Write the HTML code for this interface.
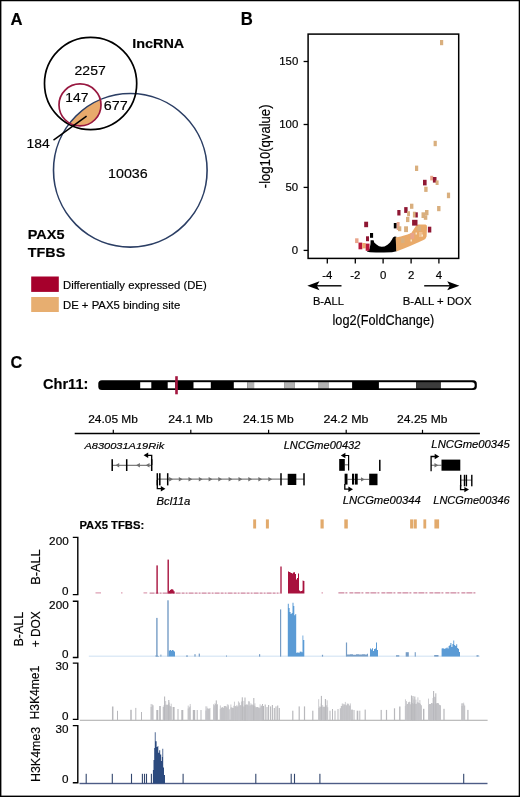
<!DOCTYPE html>
<html><head><meta charset="utf-8"><style>
html,body{margin:0;padding:0;background:#fff;}
#wrap{position:relative;width:520px;height:797px;overflow:hidden;background:#fff;}
svg{position:absolute;left:0;top:0;will-change:transform;}
text{font-family:"Liberation Sans",sans-serif;stroke:currentColor;stroke-width:0.18px;}
</style></head><body><div id="wrap">
<svg width="520" height="797" viewBox="0 0 520 797">
<rect x="0.5" y="0.5" width="519" height="796" fill="none" stroke="#000" stroke-width="1"/>
<rect x="0" y="795.6" width="520" height="1.4" fill="#000"/>
<rect x="1" y="0" width="1" height="797" fill="#000" opacity="0.4"/>
<rect x="0" y="1" width="520" height="1" fill="#000" opacity="0.25"/>
<rect x="518" y="0" width="1" height="797" fill="#000" opacity="0.3"/>
<text x="10.50" y="24.60" font-size="17" font-weight="bold" textLength="12.04" lengthAdjust="spacingAndGlyphs" fill="#000" >A</text>
<text x="132.19" y="47.60" font-size="13.5" font-weight="bold" textLength="52.06" lengthAdjust="spacingAndGlyphs" fill="#000" >lncRNA</text>
<defs><clipPath id="cpRed"><circle cx="80" cy="104.9" r="21"/></clipPath></defs>
<circle cx="130.3" cy="170.3" r="76.8" fill="#e8aa6c" clip-path="url(#cpRed)"/>
<circle cx="130.3" cy="170.3" r="76.8" fill="none" stroke="#2b3e64" stroke-width="1.6"/>
<circle cx="90.6" cy="83.5" r="46.1" fill="none" stroke="#000" stroke-width="1.7"/>
<circle cx="80" cy="104.9" r="21" fill="none" stroke="#981840" stroke-width="1.7"/>
<line x1="86.6" y1="116.1" x2="53.5" y2="140.2" stroke="#000" stroke-width="1.5"/>
<text x="74.60" y="74.50" font-size="13.6" textLength="31.12" lengthAdjust="spacingAndGlyphs" fill="#000" >2257</text>
<text x="65.29" y="102.00" font-size="13.6" textLength="23.07" lengthAdjust="spacingAndGlyphs" fill="#000" >147</text>
<text x="103.88" y="110.40" font-size="13.6" textLength="23.91" lengthAdjust="spacingAndGlyphs" fill="#000" >677</text>
<text x="26.49" y="148.40" font-size="13.6" textLength="23.21" lengthAdjust="spacingAndGlyphs" fill="#000" >184</text>
<text x="108.06" y="178.40" font-size="13.6" textLength="39.66" lengthAdjust="spacingAndGlyphs" fill="#000" >10036</text>
<text x="27.79" y="238.50" font-size="13.2" font-weight="bold" textLength="36.72" lengthAdjust="spacingAndGlyphs" fill="#000" >PAX5</text>
<text x="27.86" y="257.00" font-size="13.6" font-weight="bold" textLength="37.33" lengthAdjust="spacingAndGlyphs" fill="#000" >TFBS</text>
<rect x="31.2" y="276.5" width="27.6" height="15.4" fill="#a6002c"/>
<rect x="31.2" y="297" width="27.6" height="15" fill="#e7ae70"/>
<text x="63.00" y="289.00" font-size="11.5" textLength="143.67" lengthAdjust="spacingAndGlyphs" fill="#000" >Differentially expressed (DE)</text>
<text x="62.99" y="308.80" font-size="11.5" textLength="117.26" lengthAdjust="spacingAndGlyphs" fill="#000" >DE + PAX5 binding site</text>
<text x="240.83" y="25.10" font-size="17.5" font-weight="bold" textLength="12.08" lengthAdjust="spacingAndGlyphs" fill="#000" >B</text>
<rect x="308.1" y="34.1" width="150.6" height="224.3" fill="none" stroke="#000" stroke-width="1.5"/>
<line x1="303.6" y1="61.5" x2="308.1" y2="61.5" stroke="#000" stroke-width="1.3"/>
<text x="279.22" y="65.20" font-size="11.4" fill="#000" >150</text>
<line x1="303.6" y1="124.5" x2="308.1" y2="124.5" stroke="#000" stroke-width="1.3"/>
<text x="279.22" y="128.20" font-size="11.4" fill="#000" >100</text>
<line x1="303.6" y1="187.4" x2="308.1" y2="187.4" stroke="#000" stroke-width="1.3"/>
<text x="285.49" y="191.10" font-size="11.4" fill="#000" >50</text>
<line x1="303.6" y1="250.4" x2="308.1" y2="250.4" stroke="#000" stroke-width="1.3"/>
<text x="291.87" y="254.10" font-size="11.4" fill="#000" >0</text>
<line x1="327.3" y1="258.4" x2="327.3" y2="263.6" stroke="#000" stroke-width="1.3"/>
<text x="322.17" y="278.60" font-size="11.4" fill="#000" >-4</text>
<line x1="355.3" y1="258.4" x2="355.3" y2="263.6" stroke="#000" stroke-width="1.3"/>
<text x="350.28" y="278.60" font-size="11.4" fill="#000" >-2</text>
<line x1="383.1" y1="258.4" x2="383.1" y2="263.6" stroke="#000" stroke-width="1.3"/>
<text x="379.91" y="278.60" font-size="11.4" fill="#000" >0</text>
<line x1="411.1" y1="258.4" x2="411.1" y2="263.6" stroke="#000" stroke-width="1.3"/>
<text x="407.91" y="278.60" font-size="11.4" fill="#000" >2</text>
<line x1="438.9" y1="258.4" x2="438.9" y2="263.6" stroke="#000" stroke-width="1.3"/>
<text x="435.76" y="278.60" font-size="11.4" fill="#000" >4</text>
<line x1="313" y1="285.8" x2="341.5" y2="285.8" stroke="#000" stroke-width="1.4"/>
<path d="M307.3 285.8 L319.5 281.3 L316.8 285.8 L319.5 290.3 Z" fill="#000"/>
<line x1="424.2" y1="285.8" x2="453" y2="285.8" stroke="#000" stroke-width="1.4"/>
<path d="M459.4 285.8 L447.2 281.3 L449.9 285.8 L447.2 290.3 Z" fill="#000"/>
<text x="312.91" y="304.60" font-size="11" textLength="30.93" lengthAdjust="spacingAndGlyphs" fill="#000" >B-ALL</text>
<text x="402.79" y="304.60" font-size="11" textLength="68.74" lengthAdjust="spacingAndGlyphs" fill="#000" >B-ALL + DOX</text>
<text x="332.51" y="325.10" font-size="14.4" textLength="101.71" lengthAdjust="spacingAndGlyphs" fill="#000" >log2(FoldChange)</text>
<text x="270.20" y="188.22" font-size="14.4" textLength="83.74" lengthAdjust="spacingAndGlyphs" fill="#000" transform="rotate(-90 270.20 188.22)" >-log10(qvalue)</text><text x="10.45" y="367.60" font-size="17" font-weight="bold" textLength="11.78" lengthAdjust="spacingAndGlyphs" fill="#000" >C</text>
<text x="43.02" y="388.50" font-size="14.3" font-weight="bold" textLength="45.33" lengthAdjust="spacingAndGlyphs" fill="#000" >Chr11:</text>
<rect x="98.3" y="380.2" width="378.5" height="9.9" rx="3.6" ry="3.6" fill="#000"/>
<rect x="140.2" y="382.2" width="11.10" height="6.10" fill="#fff"/>
<rect x="167.7" y="382.2" width="7.50" height="6.10" fill="#fff"/>
<rect x="193.5" y="382.2" width="17.30" height="6.10" fill="#fff"/>
<rect x="233.8" y="382.2" width="13.40" height="6.10" fill="#fff"/>
<rect x="247.2" y="382.2" width="6.90" height="6.10" fill="#b2b2b2"/>
<rect x="254.1" y="382.2" width="30.50" height="6.10" fill="#fff"/>
<rect x="284.6" y="382.2" width="10.00" height="6.10" fill="#b2b2b2"/>
<rect x="294.6" y="382.2" width="23.40" height="6.10" fill="#fff"/>
<rect x="318" y="382.2" width="11.00" height="6.10" fill="#b2b2b2"/>
<rect x="329" y="382.2" width="23.10" height="6.10" fill="#fff"/>
<rect x="378.9" y="382.2" width="37.20" height="6.10" fill="#fff"/>
<rect x="416.1" y="382.2" width="24.80" height="6.10" fill="#3c3c3c"/>
<path d="M440.9 382.2 L471.8 382.2 A2.9 2.9 0 0 1 474.7 385.25 A2.9 2.9 0 0 1 471.8 388.3 L440.9 388.3 Z" fill="#fff"/>
<line x1="176.5" y1="376.2" x2="176.5" y2="394.3" stroke="#a3163f" stroke-width="2.6"/>
<line x1="74.7" y1="433.6" x2="479.9" y2="433.6" stroke="#000" stroke-width="1.5"/>
<line x1="113.3" y1="429.8" x2="113.3" y2="433.6" stroke="#000" stroke-width="1.2"/>
<text x="88.20" y="423.20" font-size="10.8" textLength="49.78" lengthAdjust="spacingAndGlyphs" fill="#000" >24.05 Mb</text>
<line x1="190.8" y1="429.8" x2="190.8" y2="433.6" stroke="#000" stroke-width="1.2"/>
<text x="168.39" y="423.20" font-size="10.8" textLength="44.34" lengthAdjust="spacingAndGlyphs" fill="#000" >24.1 Mb</text>
<line x1="268.6" y1="429.8" x2="268.6" y2="433.6" stroke="#000" stroke-width="1.2"/>
<text x="243.04" y="423.20" font-size="10.8" textLength="50.70" lengthAdjust="spacingAndGlyphs" fill="#000" >24.15 Mb</text>
<line x1="346.2" y1="429.8" x2="346.2" y2="433.6" stroke="#000" stroke-width="1.2"/>
<text x="323.48" y="423.20" font-size="10.8" textLength="44.96" lengthAdjust="spacingAndGlyphs" fill="#000" >24.2 Mb</text>
<line x1="422.5" y1="429.8" x2="422.5" y2="433.6" stroke="#000" stroke-width="1.2"/>
<text x="397.10" y="423.20" font-size="10.8" textLength="50.40" lengthAdjust="spacingAndGlyphs" fill="#000" >24.25 Mb</text>
<text x="84.45" y="448.60" font-size="9.7" font-style="italic" textLength="79.78" lengthAdjust="spacingAndGlyphs" fill="#000" >A830031A19Rik</text>
<text x="283.67" y="448.60" font-size="11" font-style="italic" textLength="76.73" lengthAdjust="spacingAndGlyphs" fill="#000" >LNCGme00432</text>
<text x="431.36" y="448.40" font-size="11" font-style="italic" textLength="78.31" lengthAdjust="spacingAndGlyphs" fill="#000" >LNCGme00345</text>
<text x="156.56" y="504.60" font-size="10.1" font-style="italic" textLength="33.72" lengthAdjust="spacingAndGlyphs" fill="#000" >Bcl11a</text>
<text x="342.66" y="504.30" font-size="11" font-style="italic" textLength="78.06" lengthAdjust="spacingAndGlyphs" fill="#000" >LNCGme00344</text>
<text x="433.27" y="504.30" font-size="11" font-style="italic" textLength="76.42" lengthAdjust="spacingAndGlyphs" fill="#000" >LNCGme00346</text>
<line x1="112.2" y1="465.3" x2="151.7" y2="465.3" stroke="#7e7e7e" stroke-width="1.2"/>
<path d="M119.20 463.10 L115.40 465.30 L119.20 467.50 Z" fill="#6e6e6e"/>
<path d="M139.90 463.10 L136.10 465.30 L139.90 467.50 Z" fill="#6e6e6e"/>
<path d="M149.50 463.10 L145.70 465.30 L149.50 467.50 Z" fill="#6e6e6e"/>
<rect x="111.45" y="459.2" width="1.5" height="11.80" fill="#000"/>
<rect x="125.95" y="459.2" width="1.5" height="11.80" fill="#000"/>
<rect x="150.95" y="459.2" width="1.5" height="11.80" fill="#000"/>
<path d="M151.7 465 L151.7 455.3 L147.5 455.3" fill="none" stroke="#000" stroke-width="1.3"/>
<path d="M143.6 455.3 L148.2 452.6 L148.2 458.0 Z" fill="#000"/>
<line x1="157.3" y1="479.2" x2="304" y2="479.2" stroke="#7e7e7e" stroke-width="1.2"/>
<path d="M169.20 477.00 L173.00 479.20 L169.20 481.40 Z" fill="#6e6e6e"/>
<path d="M178.80 477.00 L182.60 479.20 L178.80 481.40 Z" fill="#6e6e6e"/>
<path d="M188.50 477.00 L192.30 479.20 L188.50 481.40 Z" fill="#6e6e6e"/>
<path d="M198.80 477.00 L202.60 479.20 L198.80 481.40 Z" fill="#6e6e6e"/>
<path d="M208.60 477.00 L212.40 479.20 L208.60 481.40 Z" fill="#6e6e6e"/>
<path d="M218.30 477.00 L222.10 479.20 L218.30 481.40 Z" fill="#6e6e6e"/>
<path d="M228.60 477.00 L232.40 479.20 L228.60 481.40 Z" fill="#6e6e6e"/>
<path d="M238.50 477.00 L242.30 479.20 L238.50 481.40 Z" fill="#6e6e6e"/>
<path d="M248.30 477.00 L252.10 479.20 L248.30 481.40 Z" fill="#6e6e6e"/>
<path d="M258.40 477.00 L262.20 479.20 L258.40 481.40 Z" fill="#6e6e6e"/>
<path d="M268.40 477.00 L272.20 479.20 L268.40 481.40 Z" fill="#6e6e6e"/>
<rect x="156.55" y="473.2" width="1.5" height="12.20" fill="#000"/>
<rect x="159.05" y="473.2" width="1.5" height="12.20" fill="#000"/>
<rect x="166.95" y="473.2" width="1.5" height="12.20" fill="#000"/>
<rect x="280.25" y="473.2" width="1.5" height="12.20" fill="#000"/>
<rect x="303.25" y="473.2" width="1.5" height="12.20" fill="#000"/>
<rect x="287.7" y="473.8" width="8.6" height="11.2" fill="#000"/>
<path d="M157.3 480 L157.3 488.7 L161.5 488.7" fill="none" stroke="#000" stroke-width="1.3"/>
<path d="M165.4 488.7 L160.8 486.0 L160.8 491.4 Z" fill="#000"/>
<line x1="344.8" y1="464.8" x2="348.5" y2="464.8" stroke="#7e7e7e" stroke-width="1.2"/>
<rect x="339.2" y="459.0" width="5.6" height="11.8" fill="#000"/>
<path d="M348.6 470.6 L348.6 455.5 L344.8 455.5" fill="none" stroke="#000" stroke-width="1.2"/>
<path d="M340.8 455.5 L345.4 452.8 L345.4 458.2 Z" fill="#000"/>
<rect x="379.05" y="459.8" width="1.5" height="11.20" fill="#000"/>
<line x1="347.5" y1="479.4" x2="369.2" y2="479.4" stroke="#7e7e7e" stroke-width="1.2"/>
<path d="M361.00 477.20 L364.80 479.40 L361.00 481.60 Z" fill="#6e6e6e"/>
<rect x="344.6" y="473.7" width="2.9" height="10.9" fill="#000"/>
<rect x="352.0" y="473.7" width="2.2" height="10.9" fill="#000"/>
<rect x="355.0" y="473.7" width="2.7" height="10.9" fill="#000"/>
<rect x="369.2" y="473.7" width="8.3" height="11.5" fill="#000"/>
<path d="M344.8 484 L344.8 489.2 L349.2 489.2" fill="none" stroke="#000" stroke-width="1.3"/>
<path d="M353.0 489.2 L348.4 486.5 L348.4 491.9 Z" fill="#000"/>
<line x1="431.1" y1="465.3" x2="441.5" y2="465.3" stroke="#7e7e7e" stroke-width="1.2"/>
<path d="M434.50 463.10 L438.30 465.30 L434.50 467.50 Z" fill="#6e6e6e"/>
<rect x="441.5" y="459.6" width="18.8" height="11.1" fill="#000"/>
<path d="M431.1 471.2 L431.1 456.5 L435.5 456.5" fill="none" stroke="#000" stroke-width="1.3"/>
<path d="M439.3 456.5 L434.7 453.8 L434.7 459.2 Z" fill="#000"/>
<line x1="460.7" y1="480.1" x2="471.8" y2="480.1" stroke="#666" stroke-width="1.0"/>
<rect x="460.00" y="474.8" width="1.4" height="11.50" fill="#000"/>
<rect x="463.80" y="474.8" width="1.4" height="11.50" fill="#000"/>
<rect x="465.70" y="474.8" width="1.4" height="11.50" fill="#000"/>
<rect x="471.10" y="474.8" width="1.4" height="11.50" fill="#000"/>
<path d="M460.6 485 L460.6 489.6 L465.2 489.6" fill="none" stroke="#000" stroke-width="1.4"/>
<path d="M469.0 489.6 L464.4 487.0 L464.4 492.2 Z" fill="#000"/>
<text x="79.41" y="528.80" font-size="11.4" font-weight="bold" textLength="64.80" lengthAdjust="spacingAndGlyphs" fill="#000" >PAX5 TFBS:</text>
<rect x="253.2" y="519.4" width="2.90" height="9.1" fill="#e2aa6c"/>
<rect x="265.9" y="519.4" width="3.00" height="9.1" fill="#e2aa6c"/>
<rect x="320.5" y="519.4" width="3.20" height="9.1" fill="#e2aa6c"/>
<rect x="344.3" y="519.4" width="3.50" height="9.1" fill="#e2aa6c"/>
<rect x="410.1" y="519.4" width="3.00" height="9.1" fill="#e2aa6c"/>
<rect x="413.6" y="519.4" width="3.20" height="9.1" fill="#e2aa6c"/>
<rect x="423.4" y="519.4" width="2.80" height="9.1" fill="#e2aa6c"/>
<rect x="434.4" y="519.4" width="4.70" height="9.1" fill="#e2aa6c"/>
<path d="M72.8 537.4 L77.8 537.4 L77.8 594.6 L72.8 594.6" fill="none" stroke="#000" stroke-width="1.4"/>
<text x="49.13" y="544.70" font-size="10.8" textLength="19.52" lengthAdjust="spacingAndGlyphs" fill="#000" >200</text>
<text x="62.12" y="595.20" font-size="10.8" textLength="6.51" lengthAdjust="spacingAndGlyphs" fill="#000" >0</text>
<path d="M72.8 601.2 L77.8 601.2 L77.8 657.5 L72.8 657.5" fill="none" stroke="#000" stroke-width="1.4"/>
<text x="49.13" y="608.50" font-size="10.8" textLength="19.52" lengthAdjust="spacingAndGlyphs" fill="#000" >200</text>
<text x="62.12" y="658.10" font-size="10.8" textLength="6.51" lengthAdjust="spacingAndGlyphs" fill="#000" >0</text>
<path d="M72.8 663.1 L77.8 663.1 L77.8 719.4 L72.8 719.4" fill="none" stroke="#000" stroke-width="1.4"/>
<text x="55.56" y="670.40" font-size="10.8" textLength="13.01" lengthAdjust="spacingAndGlyphs" fill="#000" >30</text>
<text x="62.12" y="720.00" font-size="10.8" textLength="6.51" lengthAdjust="spacingAndGlyphs" fill="#000" >0</text>
<path d="M72.8 725.6 L77.8 725.6 L77.8 782.8 L72.8 782.8" fill="none" stroke="#000" stroke-width="1.4"/>
<text x="55.56" y="732.90" font-size="10.8" textLength="13.01" lengthAdjust="spacingAndGlyphs" fill="#000" >30</text>
<text x="62.12" y="783.40" font-size="10.8" textLength="6.51" lengthAdjust="spacingAndGlyphs" fill="#000" >0</text>
<text x="39.90" y="584.82" font-size="13.6" textLength="35.52" lengthAdjust="spacingAndGlyphs" fill="#000" transform="rotate(-90 39.90 584.82)" >B-ALL</text>
<text x="22.70" y="646.60" font-size="13" textLength="34.90" lengthAdjust="spacingAndGlyphs" fill="#000" transform="rotate(-90 22.70 646.60)" >B-ALL</text>
<text x="40.20" y="647.19" font-size="13" textLength="35.94" lengthAdjust="spacingAndGlyphs" fill="#000" transform="rotate(-90 40.20 647.19)" >+ DOX</text>
<text x="39.50" y="719.57" font-size="13" textLength="53.94" lengthAdjust="spacingAndGlyphs" fill="#000" transform="rotate(-90 39.50 719.57)" >H3K4me1</text>
<text x="40.40" y="781.99" font-size="13" textLength="55.17" lengthAdjust="spacingAndGlyphs" fill="#000" transform="rotate(-90 40.40 781.99)" >H3K4me3</text>
<path d="M366.8 251.6 L369.5 249 L370.5 244 L370.6 240.3 L373.6 240.3 L374.2 242.4 L376.5 244.6 L379 246.2 L381.7 246.8 L384.5 246.4 L387.5 244.8 L390 242.5 L392 239.5 L393 237.5 L394.7 236.6 L396.4 236.8 L396.6 251.3 L392 252.3 L384 252.6 L376 252.4 L370 252.2 Z" fill="#000"/>
<path d="M395.6 237.4 L400.8 236.6 L404 235.6 L407.5 234.6 L411.3 233 L413.6 229.5 L416.2 225.5 L418 224.4 L425.5 224.4 Q427.2 224.6 427 227 L426.6 236.5 Q426 238.9 423.5 240 L418 242.6 Q411 245.8 404 248.6 Q400 250.3 396.4 251.6 Z" fill="#e9aa6a"/>
<rect x="440.0" y="40.0" width="3.20" height="5.20" fill="#d9af7e"/>
<rect x="433.6" y="140.8" width="3.20" height="5.40" fill="#d9af7e"/>
<rect x="415.0" y="165.6" width="3.20" height="5.40" fill="#d9af7e"/>
<rect x="430.2" y="175.8" width="3.00" height="4.60" fill="#e9a48a"/>
<rect x="432.9" y="177.0" width="3.60" height="5.60" fill="#8f1733"/>
<rect x="435.6" y="180.4" width="3.00" height="4.60" fill="#d9af7e"/>
<rect x="423.0" y="179.8" width="3.60" height="5.60" fill="#8f1733"/>
<rect x="424.2" y="186.7" width="3.40" height="5.20" fill="#d9af7e"/>
<rect x="446.9" y="192.6" width="3.20" height="5.60" fill="#d9af7e"/>
<rect x="410.0" y="203.7" width="3.40" height="5.10" fill="#d9af7e"/>
<rect x="437.1" y="206.0" width="3.40" height="5.20" fill="#d9af7e"/>
<rect x="397.3" y="210.0" width="3.20" height="5.50" fill="#8f1733"/>
<rect x="404.2" y="207.1" width="3.40" height="5.80" fill="#8f1733"/>
<rect x="407.1" y="211.2" width="2.90" height="5.10" fill="#d9af7e"/>
<rect x="412.9" y="211.7" width="2.90" height="5.80" fill="#d9af7e"/>
<rect x="415.5" y="212.3" width="2.30" height="5.20" fill="#8f1733"/>
<rect x="421.5" y="212.3" width="3.50" height="5.70" fill="#d9af7e"/>
<rect x="425.0" y="210.0" width="3.50" height="5.20" fill="#d9af7e"/>
<rect x="423.8" y="215.2" width="3.50" height="4.60" fill="#d9af7e"/>
<rect x="406.0" y="216.9" width="3.40" height="5.20" fill="#d9af7e"/>
<rect x="412.1" y="219.8" width="5.40" height="5.80" fill="#8f1733"/>
<rect x="427.9" y="226.7" width="3.40" height="5.80" fill="#8f1733"/>
<rect x="393.8" y="223.0" width="2.90" height="5.40" fill="#000"/>
<rect x="396.7" y="222.0" width="2.90" height="8.00" fill="#e9a48a"/>
<rect x="398.0" y="226.3" width="3.30" height="4.90" fill="#d9af7e"/>
<rect x="404.1" y="226.3" width="3.90" height="5.80" fill="#d9af7e"/>
<rect x="410.4" y="233.0" width="3.80" height="5.80" fill="#e9a48a"/>
<rect x="364.2" y="221.7" width="3.90" height="5.50" fill="#8f1733"/>
<rect x="370.0" y="233.0" width="3.10" height="4.80" fill="#000"/>
<rect x="366.0" y="236.3" width="3.00" height="4.90" fill="#8f1733"/>
<rect x="355.1" y="238.3" width="3.40" height="4.80" fill="#e9a48a"/>
<rect x="358.5" y="242.6" width="3.80" height="6.70" fill="#b8173a"/>
<rect x="362.3" y="243.0" width="3.40" height="5.40" fill="#eea56c"/>
<rect x="365.7" y="243.6" width="3.80" height="7.20" fill="#b8173a"/>
<rect x="401" y="238" width="3.50" height="5.00" fill="#d9af7e"/>
<rect x="417.5" y="226" width="3.50" height="5.00" fill="#d9af7e"/>
<rect x="419" y="232" width="3.50" height="5.00" fill="#f0c090"/>
<rect x="415.5" y="232.5" width="1.5" height="2" fill="#f8e4cc"/>
<rect x="421.5" y="234.5" width="1.5" height="2" fill="#f8e4cc"/>
<rect x="410.5" y="239.5" width="1.5" height="2" fill="#f8e4cc"/>
<line x1="149.6" y1="593.1" x2="280" y2="593.1" stroke="#b04068" stroke-width="1" stroke-dasharray="5 1 3 1 2 1" opacity="0.8"/>
<line x1="338.4" y1="592.9" x2="475.4" y2="592.9" stroke="#b04068" stroke-width="1" stroke-dasharray="6 1 2 2 4 1" opacity="0.8"/>
<rect x="95.5" y="592.4" width="5.5" height="1" fill="#c4587a" opacity="0.7"/>
<rect x="121" y="592.4" width="1.5" height="1" fill="#c4587a" opacity="0.7"/>
<rect x="143.5" y="592.4" width="3.6999999999999886" height="1" fill="#c4587a" opacity="0.7"/>
<rect x="321.5" y="592.4" width="1.5" height="1" fill="#c4587a" opacity="0.7"/>
<rect x="156.40" y="565.40" width="1.4" height="28.20" fill="#a8123e"/>
<rect x="167.50" y="559.60" width="1.4" height="34.00" fill="#a8123e"/>
<path d="M168.80 593.6 L168.80 591.00 L169.80 591.00 L169.80 590.00 L170.80 590.00 L170.80 589.30 L171.80 589.30 L171.80 589.20 L172.80 589.20 L172.80 589.80 L173.60 589.80 L173.60 591.20 L174.60 591.20 L174.60 593.6 Z" fill="#a8123e"/>
<rect x="280.35" y="566.50" width="1.3" height="27.10" fill="#a8123e"/>
<path d="M288.00 593.6 L288.00 571.50 L289.00 571.50 L289.00 572.00 L290.00 572.00 L290.00 572.50 L291.00 572.50 L291.00 573.00 L292.00 573.00 L292.00 573.50 L293.00 573.50 L293.00 572.60 L294.00 572.60 L294.00 572.30 L295.00 572.30 L295.00 574.00 L296.00 574.00 L296.00 579.60 L297.00 579.60 L297.00 578.00 L298.00 578.00 L298.00 573.50 L299.00 573.50 L299.00 590.50 L300.00 590.50 L300.00 591.20 L301.00 591.20 L301.00 591.00 L302.00 591.00 L302.00 590.50 L302.60 590.50 L302.60 580.40 L303.40 580.40 L303.40 581.00 L304.40 581.00 L304.40 593.6 Z" fill="#a8123e"/>
<rect x="88.8" y="655.7" width="391" height="0.9" fill="#c8dcf0"/>
<rect x="156.20" y="617.90" width="1.4" height="38.70" fill="#779dc6"/>
<rect x="167.30" y="600.30" width="1.4" height="56.30" fill="#779dc6"/>
<path d="M155.30 656.6 L155.30 655.60 L158.00 655.60 L158.00 656.00 L159.00 656.00 L159.00 656.6 Z" fill="#779dc6"/>
<path d="M168.70 656.6 L168.70 650.40 L170.00 650.40 L170.00 650.00 L171.00 650.00 L171.00 650.80 L172.00 650.80 L172.00 650.10 L173.00 650.10 L173.00 650.50 L174.00 650.50 L174.00 651.50 L175.00 651.50 L175.00 656.6 Z" fill="#5b9bd5"/>
<rect x="160.40" y="654.60" width="1.0" height="2.00" fill="#779dc6"/>
<rect x="194.40" y="654.20" width="1.2" height="2.40" fill="#779dc6"/>
<rect x="198.70" y="653.60" width="1.2" height="3.00" fill="#779dc6"/>
<rect x="259.00" y="654.20" width="1.2" height="2.40" fill="#779dc6"/>
<rect x="321.90" y="654.80" width="1.2" height="1.80" fill="#779dc6"/>
<rect x="280.00" y="609.40" width="1.2" height="47.20" fill="#779dc6"/>
<path d="M287.80 656.6 L287.80 603.70 L288.80 603.70 L288.80 608.00 L289.60 608.00 L289.60 612.00 L290.60 612.00 L290.60 614.00 L291.60 614.00 L291.60 613.00 L292.50 613.00 L292.50 602.70 L293.50 602.70 L293.50 606.00 L294.30 606.00 L294.30 615.20 L295.30 615.20 L295.30 614.00 L296.20 614.00 L296.20 652.70 L297.50 652.70 L297.50 652.20 L298.50 652.20 L298.50 652.90 L299.50 652.90 L299.50 651.70 L300.50 651.70 L300.50 651.50 L301.50 651.50 L301.50 652.20 L302.50 652.20 L302.50 635.40 L303.30 635.40 L303.30 640.00 L304.30 640.00 L304.30 656.6 Z" fill="#5b9bd5"/>
<rect x="345.90" y="642.50" width="1.2" height="14.10" fill="#779dc6"/>
<path d="M347.00 656.6 L347.00 654.60 L350.00 654.60 L350.00 654.20 L353.00 654.20 L353.00 654.80 L356.00 654.80 L356.00 654.30 L359.00 654.30 L359.00 654.60 L362.00 654.60 L362.00 654.20 L365.00 654.20 L365.00 654.50 L367.00 654.50 L367.00 653.80 L368.00 653.80 L368.00 656.6 Z" fill="#779dc6"/>
<path d="M370.00 656.6 L370.00 648.50 L371.00 648.50 L371.00 649.50 L372.00 649.50 L372.00 648.30 L373.00 648.30 L373.00 651.00 L374.00 651.00 L374.00 649.00 L375.00 649.00 L375.00 648.60 L376.00 648.60 L376.00 642.50 L377.00 642.50 L377.00 650.00 L378.00 650.00 L378.00 656.6 Z" fill="#5b9bd5"/>
<rect x="396" y="655.2" width="3.30" height="1.40" fill="#779dc6"/>
<rect x="405.7" y="652.2" width="3.10" height="4.40" fill="#779dc6"/>
<rect x="414.7" y="652.2" width="1.10" height="4.40" fill="#779dc6"/>
<rect x="434.2" y="655.0" width="4.30" height="1.60" fill="#779dc6"/>
<rect x="476.5" y="655.2" width="2.10" height="1.40" fill="#779dc6"/>
<rect x="186" y="655.5" width="2.00" height="1.10" fill="#779dc6"/>
<rect x="226" y="655.5" width="1.00" height="1.10" fill="#779dc6"/>
<path d="M441.60 656.6 L441.60 648.50 L442.60 648.50 L442.60 648.00 L443.60 648.00 L443.60 649.00 L444.60 649.00 L444.60 648.60 L445.60 648.60 L445.60 648.20 L446.60 648.20 L446.60 647.50 L447.60 647.50 L447.60 648.50 L448.60 648.50 L448.60 646.00 L449.60 646.00 L449.60 645.00 L450.40 645.00 L450.40 643.10 L451.40 643.10 L451.40 647.00 L452.40 647.00 L452.40 644.00 L453.30 644.00 L453.30 640.60 L454.20 640.60 L454.20 645.00 L455.20 645.00 L455.20 646.00 L456.20 646.00 L456.20 644.20 L457.20 644.20 L457.20 648.00 L458.20 648.00 L458.20 649.00 L459.00 649.00 L459.00 652.00 L460.00 652.00 L460.00 656.6 Z" fill="#5b9bd5"/>
<rect x="79.8" y="719.6999999999999" width="407.8" height="1.3" fill="#bdbdbd"/>
<rect x="111.95" y="706.50" width="1.5" height="13.80" fill="#b8b8bc"/>
<rect x="117.00" y="710.80" width="1" height="9.50" fill="#b8b8bc"/>
<rect x="130.25" y="709.80" width="1.5" height="10.50" fill="#b8b8bc"/>
<rect x="135.30" y="707.90" width="1" height="12.40" fill="#b8b8bc"/>
<rect x="141.00" y="712.00" width="1" height="8.30" fill="#b8b8bc"/>
<rect x="156.30" y="710.00" width="2" height="10.30" fill="#b8b8bc"/>
<rect x="159.20" y="706.00" width="1.6" height="14.30" fill="#b8b8bc"/>
<rect x="172.60" y="707.00" width="2" height="13.30" fill="#b8b8bc"/>
<rect x="177.50" y="709.00" width="1" height="11.30" fill="#b8b8bc"/>
<rect x="181.30" y="710.00" width="2" height="10.30" fill="#b8b8bc"/>
<rect x="192.80" y="710.00" width="2.4" height="10.30" fill="#b8b8bc"/>
<rect x="196.70" y="710.00" width="1" height="10.30" fill="#b8b8bc"/>
<rect x="200.50" y="710.00" width="1" height="10.30" fill="#b8b8bc"/>
<rect x="259.50" y="708.80" width="2" height="11.50" fill="#b8b8bc"/>
<rect x="262.00" y="704.00" width="1" height="16.30" fill="#b8b8bc"/>
<rect x="292.20" y="710.70" width="1.2" height="9.60" fill="#b8b8bc"/>
<rect x="298.60" y="706.40" width="1.2" height="13.90" fill="#b8b8bc"/>
<rect x="303.90" y="706.40" width="1.2" height="13.90" fill="#b8b8bc"/>
<rect x="312.20" y="710.70" width="1.2" height="9.60" fill="#b8b8bc"/>
<rect x="329.50" y="710.70" width="1" height="9.60" fill="#b8b8bc"/>
<rect x="332.00" y="709.00" width="1" height="11.30" fill="#b8b8bc"/>
<rect x="334.50" y="710.70" width="1" height="9.60" fill="#b8b8bc"/>
<rect x="337.50" y="709.00" width="1" height="11.30" fill="#b8b8bc"/>
<rect x="351.20" y="709.60" width="1.6" height="10.70" fill="#b8b8bc"/>
<rect x="353.50" y="710.00" width="1" height="10.30" fill="#b8b8bc"/>
<rect x="356.70" y="710.70" width="1.6" height="9.60" fill="#b8b8bc"/>
<rect x="359.30" y="710.70" width="1" height="9.60" fill="#b8b8bc"/>
<rect x="364.60" y="709.60" width="1.2" height="10.70" fill="#b8b8bc"/>
<rect x="380.60" y="709.90" width="1.2" height="10.40" fill="#b8b8bc"/>
<rect x="385.90" y="709.90" width="1.2" height="10.40" fill="#b8b8bc"/>
<rect x="393.90" y="708.30" width="1.2" height="12.00" fill="#b8b8bc"/>
<rect x="399.10" y="706.50" width="1.4" height="13.80" fill="#b8b8bc"/>
<rect x="423.00" y="708.80" width="1.4" height="11.50" fill="#b8b8bc"/>
<rect x="443.40" y="708.80" width="1.2" height="11.50" fill="#b8b8bc"/>
<rect x="467.30" y="709.90" width="1.2" height="10.40" fill="#b8b8bc"/>
<path d="M150.60 720.3 L150.60 707.08 L151.60 707.08 L151.60 704.16 L152.60 704.16 L152.60 705.36 L153.60 705.36 L153.60 720.3 Z" fill="#c2c2c6"/>
<rect x="150.65" y="703.94" width="0.9" height="16.36" fill="#c6c6ca"/>
<path d="M162.70 720.3 L162.70 706.82 L163.70 706.82 L163.70 705.12 L164.70 705.12 L164.70 704.80 L165.70 704.80 L165.70 704.38 L166.70 704.38 L166.70 705.12 L167.70 705.12 L167.70 703.94 L168.70 703.94 L168.70 705.16 L169.70 705.16 L169.70 706.07 L170.70 706.07 L170.70 706.42 L171.70 706.42 L171.70 720.3 Z" fill="#c2c2c6"/>
<rect x="165.25" y="700.99" width="0.9" height="19.31" fill="#c6c6ca"/>
<rect x="168.75" y="702.43" width="0.9" height="17.87" fill="#c6c6ca"/>
<rect x="170.75" y="703.67" width="0.9" height="16.63" fill="#c6c6ca"/>
<rect x="164.05" y="696.50" width="1.1" height="23.80" fill="#b8b8bc"/>
<rect x="168.25" y="700.00" width="1.1" height="20.30" fill="#b8b8bc"/>
<path d="M187.70 720.3 L187.70 708.55 L188.70 708.55 L188.70 707.17 L189.70 707.17 L189.70 706.25 L190.70 706.25 L190.70 720.3 Z" fill="#c2c2c6"/>
<rect x="187.75" y="705.58" width="0.9" height="14.72" fill="#c6c6ca"/>
<rect x="189.75" y="703.96" width="0.9" height="16.34" fill="#c6c6ca"/>
<path d="M205.40 720.3 L205.40 710.58 L206.40 710.58 L206.40 708.67 L207.40 708.67 L207.40 707.92 L208.40 707.92 L208.40 709.02 L209.40 709.02 L209.40 708.08 L210.40 708.08 L210.40 720.3 Z" fill="#c2c2c6"/>
<rect x="205.45" y="706.27" width="0.9" height="14.03" fill="#c6c6ca"/>
<rect x="206.45" y="706.45" width="0.9" height="13.85" fill="#c6c6ca"/>
<path d="M213.00 720.3 L213.00 707.38 L214.00 707.38 L214.00 705.26 L215.00 705.26 L215.00 703.98 L216.00 703.98 L216.00 705.03 L217.00 705.03 L217.00 704.20 L218.00 704.20 L218.00 720.3 Z" fill="#c2c2c6"/>
<rect x="213.05" y="704.27" width="0.9" height="16.03" fill="#c6c6ca"/>
<rect x="214.55" y="703.34" width="0.9" height="16.96" fill="#c6c6ca"/>
<rect x="215.75" y="700.40" width="1.1" height="19.90" fill="#b8b8bc"/>
<path d="M219.80 720.3 L219.80 709.12 L220.80 709.12 L220.80 707.84 L221.80 707.84 L221.80 706.99 L222.80 706.99 L222.80 707.71 L223.80 707.71 L223.80 705.97 L224.80 705.97 L224.80 706.02 L225.80 706.02 L225.80 706.45 L226.80 706.45 L226.80 707.47 L227.80 707.47 L227.80 706.37 L228.80 706.37 L228.80 709.27 L229.80 709.27 L229.80 720.3 Z" fill="#c2c2c6"/>
<rect x="219.85" y="705.44" width="0.9" height="14.86" fill="#c6c6ca"/>
<rect x="225.35" y="706.35" width="0.9" height="13.95" fill="#c6c6ca"/>
<rect x="226.85" y="704.29" width="0.9" height="16.01" fill="#c6c6ca"/>
<rect x="227.85" y="704.72" width="0.9" height="15.58" fill="#c6c6ca"/>
<path d="M230.40 720.3 L230.40 707.39 L231.40 707.39 L231.40 707.31 L232.40 707.31 L232.40 708.04 L233.40 708.04 L233.40 705.71 L234.40 705.71 L234.40 706.17 L235.40 706.17 L235.40 705.98 L236.40 705.98 L236.40 706.42 L237.40 706.42 L237.40 706.27 L238.40 706.27 L238.40 706.37 L239.40 706.37 L239.40 704.97 L240.40 704.97 L240.40 705.30 L241.40 705.30 L241.40 705.16 L242.40 705.16 L242.40 706.42 L243.40 706.42 L243.40 706.60 L244.40 706.60 L244.40 704.66 L245.40 704.66 L245.40 704.72 L246.40 704.72 L246.40 704.86 L247.40 704.86 L247.40 704.86 L248.40 704.86 L248.40 705.46 L249.40 705.46 L249.40 705.71 L250.40 705.71 L250.40 704.93 L251.40 704.93 L251.40 704.31 L252.40 704.31 L252.40 705.31 L253.40 705.31 L253.40 705.19 L254.40 705.19 L254.40 705.93 L255.40 705.93 L255.40 707.29 L256.40 707.29 L256.40 707.09 L257.40 707.09 L257.40 707.10 L258.40 707.10 L258.40 707.77 L259.40 707.77 L259.40 708.34 L260.40 708.34 L260.40 720.3 Z" fill="#c2c2c6"/>
<rect x="230.45" y="704.45" width="0.9" height="15.85" fill="#c6c6ca"/>
<rect x="233.95" y="701.67" width="0.9" height="18.63" fill="#c6c6ca"/>
<rect x="236.45" y="704.92" width="0.9" height="15.38" fill="#c6c6ca"/>
<rect x="237.95" y="701.37" width="0.9" height="18.93" fill="#c6c6ca"/>
<rect x="238.95" y="702.62" width="0.9" height="17.68" fill="#c6c6ca"/>
<rect x="240.95" y="701.50" width="0.9" height="18.80" fill="#c6c6ca"/>
<rect x="241.95" y="700.64" width="0.9" height="19.66" fill="#c6c6ca"/>
<rect x="243.45" y="700.89" width="0.9" height="19.41" fill="#c6c6ca"/>
<rect x="246.45" y="704.17" width="0.9" height="16.13" fill="#c6c6ca"/>
<rect x="247.95" y="701.22" width="0.9" height="19.08" fill="#c6c6ca"/>
<rect x="248.95" y="701.38" width="0.9" height="18.92" fill="#c6c6ca"/>
<rect x="250.45" y="703.31" width="0.9" height="16.99" fill="#c6c6ca"/>
<rect x="252.45" y="704.73" width="0.9" height="15.57" fill="#c6c6ca"/>
<rect x="254.45" y="703.30" width="0.9" height="17.00" fill="#c6c6ca"/>
<rect x="241.75" y="697.30" width="1.1" height="23.00" fill="#b8b8bc"/>
<rect x="244.45" y="697.50" width="1.1" height="22.80" fill="#b8b8bc"/>
<rect x="253.25" y="698.00" width="1.1" height="22.30" fill="#b8b8bc"/>
<path d="M259.60 720.3 L259.60 707.54 L260.60 707.54 L260.60 705.98 L261.60 705.98 L261.60 705.07 L262.60 705.07 L262.60 720.3 Z" fill="#c2c2c6"/>
<rect x="259.65" y="704.27" width="0.9" height="16.03" fill="#c6c6ca"/>
<path d="M318.20 720.3 L318.20 708.09 L319.20 708.09 L319.20 706.59 L320.20 706.59 L320.20 706.75 L321.20 706.75 L321.20 707.16 L322.20 707.16 L322.20 706.85 L323.20 706.85 L323.20 706.73 L324.20 706.73 L324.20 706.76 L325.20 706.76 L325.20 706.58 L326.20 706.58 L326.20 705.34 L327.20 705.34 L327.20 707.29 L328.20 707.29 L328.20 720.3 Z" fill="#c2c2c6"/>
<rect x="318.25" y="699.19" width="0.9" height="21.11" fill="#c6c6ca"/>
<rect x="320.75" y="703.50" width="0.9" height="16.80" fill="#c6c6ca"/>
<rect x="322.25" y="705.09" width="0.9" height="15.21" fill="#c6c6ca"/>
<rect x="325.25" y="699.66" width="0.9" height="20.64" fill="#c6c6ca"/>
<rect x="326.75" y="700.33" width="0.9" height="19.97" fill="#c6c6ca"/>
<rect x="320.85" y="695.90" width="1.1" height="24.40" fill="#b8b8bc"/>
<rect x="324.85" y="699.00" width="1.1" height="21.30" fill="#b8b8bc"/>
<path d="M339.80 720.3 L339.80 708.16 L340.80 708.16 L340.80 706.09 L341.80 706.09 L341.80 703.45 L342.80 703.45 L342.80 705.48 L343.80 705.48 L343.80 704.13 L344.80 704.13 L344.80 704.84 L345.80 704.84 L345.80 705.30 L346.80 705.30 L346.80 703.59 L347.80 703.59 L347.80 704.23 L348.80 704.23 L348.80 705.62 L349.80 705.62 L349.80 705.57 L350.80 705.57 L350.80 720.3 Z" fill="#c2c2c6"/>
<rect x="342.85" y="703.81" width="0.9" height="16.49" fill="#c6c6ca"/>
<rect x="344.85" y="701.90" width="0.9" height="18.40" fill="#c6c6ca"/>
<rect x="347.85" y="703.67" width="0.9" height="16.63" fill="#c6c6ca"/>
<rect x="349.85" y="703.39" width="0.9" height="16.91" fill="#c6c6ca"/>
<path d="M404.90 720.3 L404.90 705.88 L405.90 705.88 L405.90 704.38 L406.90 704.38 L406.90 704.10 L407.90 704.10 L407.90 702.34 L408.90 702.34 L408.90 701.83 L409.90 701.83 L409.90 704.13 L410.90 704.13 L410.90 703.36 L411.90 703.36 L411.90 703.06 L412.90 703.06 L412.90 704.04 L413.90 704.04 L413.90 702.84 L414.90 702.84 L414.90 703.89 L415.90 703.89 L415.90 703.78 L416.90 703.78 L416.90 702.31 L417.90 702.31 L417.90 702.40 L418.90 702.40 L418.90 703.11 L419.90 703.11 L419.90 703.74 L420.90 703.74 L420.90 705.33 L421.90 705.33 L421.90 720.3 Z" fill="#c2c2c6"/>
<rect x="404.95" y="699.30" width="0.9" height="21.00" fill="#c6c6ca"/>
<rect x="405.95" y="701.07" width="0.9" height="19.23" fill="#c6c6ca"/>
<rect x="409.45" y="702.05" width="0.9" height="18.25" fill="#c6c6ca"/>
<rect x="411.45" y="697.84" width="0.9" height="22.46" fill="#c6c6ca"/>
<rect x="413.45" y="699.42" width="0.9" height="20.88" fill="#c6c6ca"/>
<rect x="415.45" y="699.60" width="0.9" height="20.70" fill="#c6c6ca"/>
<rect x="417.45" y="697.34" width="0.9" height="22.96" fill="#c6c6ca"/>
<rect x="419.45" y="700.05" width="0.9" height="20.25" fill="#c6c6ca"/>
<rect x="410.95" y="695.50" width="1.1" height="24.80" fill="#b8b8bc"/>
<rect x="412.45" y="696.00" width="1.1" height="24.30" fill="#b8b8bc"/>
<rect x="414.25" y="696.50" width="1.1" height="23.80" fill="#b8b8bc"/>
<path d="M428.00 720.3 L428.00 704.90 L429.00 704.90 L429.00 703.94 L430.00 703.94 L430.00 704.10 L431.00 704.10 L431.00 703.02 L432.00 703.02 L432.00 703.15 L433.00 703.15 L433.00 703.62 L434.00 703.62 L434.00 703.99 L435.00 703.99 L435.00 702.86 L436.00 702.86 L436.00 703.27 L437.00 703.27 L437.00 703.01 L438.00 703.01 L438.00 703.28 L439.00 703.28 L439.00 704.73 L440.00 704.73 L440.00 705.18 L441.00 705.18 L441.00 720.3 Z" fill="#c2c2c6"/>
<rect x="428.05" y="698.59" width="0.9" height="21.71" fill="#c6c6ca"/>
<rect x="432.55" y="697.94" width="0.9" height="22.36" fill="#c6c6ca"/>
<rect x="434.05" y="696.80" width="0.9" height="23.50" fill="#c6c6ca"/>
<rect x="435.05" y="697.27" width="0.9" height="23.03" fill="#c6c6ca"/>
<rect x="433.05" y="691.00" width="1.1" height="29.30" fill="#b8b8bc"/>
<rect x="435.25" y="693.30" width="1.1" height="27.00" fill="#b8b8bc"/>
<path d="M461.20 720.3 L461.20 705.91 L462.20 705.91 L462.20 703.13 L463.20 703.13 L463.20 703.92 L464.20 703.92 L464.20 705.62 L465.20 705.62 L465.20 720.3 Z" fill="#c2c2c6"/>
<rect x="461.25" y="703.33" width="0.9" height="16.97" fill="#c6c6ca"/>
<rect x="463.25" y="702.65" width="0.9" height="17.65" fill="#c6c6ca"/>
<rect x="262.95" y="706.00" width="1.1" height="14.30" fill="#b8b8bc"/>
<rect x="264.65" y="704.50" width="1.1" height="15.80" fill="#b8b8bc"/>
<rect x="266.45" y="707.00" width="1.1" height="13.30" fill="#b8b8bc"/>
<rect x="268.05" y="705.00" width="1.1" height="15.30" fill="#b8b8bc"/>
<rect x="270.05" y="706.40" width="1.1" height="13.90" fill="#b8b8bc"/>
<rect x="271.85" y="705.00" width="1.1" height="15.30" fill="#b8b8bc"/>
<rect x="273.75" y="708.00" width="1.1" height="12.30" fill="#b8b8bc"/>
<rect x="275.45" y="706.40" width="1.1" height="13.90" fill="#b8b8bc"/>
<rect x="277.15" y="705.50" width="1.1" height="14.80" fill="#b8b8bc"/>
<rect x="278.75" y="708.00" width="1.1" height="12.30" fill="#b8b8bc"/>
<rect x="79.5" y="782.8" width="408" height="1.4" fill="#4d5c86"/>
<rect x="85.65" y="773.80" width="1.1" height="9.70" fill="#33476e"/>
<rect x="111.75" y="773.80" width="1.1" height="9.70" fill="#33476e"/>
<rect x="130.95" y="773.80" width="1.1" height="9.70" fill="#33476e"/>
<rect x="141.85" y="773.80" width="1.1" height="9.70" fill="#33476e"/>
<rect x="143.95" y="773.80" width="1.1" height="9.70" fill="#33476e"/>
<rect x="145.95" y="773.80" width="1.1" height="9.70" fill="#33476e"/>
<rect x="150.85" y="773.80" width="1.1" height="9.70" fill="#33476e"/>
<rect x="182.55" y="773.80" width="1.1" height="9.70" fill="#33476e"/>
<rect x="255.25" y="773.80" width="1.1" height="9.70" fill="#33476e"/>
<rect x="290.65" y="773.80" width="1.1" height="9.70" fill="#33476e"/>
<rect x="293.95" y="773.80" width="1.1" height="9.70" fill="#33476e"/>
<rect x="319.35" y="773.80" width="1.1" height="9.70" fill="#33476e"/>
<rect x="463.15" y="773.80" width="1.1" height="9.70" fill="#33476e"/>
<path d="M152.90 783.5 L152.90 770.00 L153.50 770.00 L153.50 760.00 L154.20 760.00 L154.20 748.00 L154.80 748.00 L154.80 732.30 L155.60 732.30 L155.60 741.30 L156.60 741.30 L156.60 747.00 L157.60 747.00 L157.60 746.00 L158.30 746.00 L158.30 752.80 L159.20 752.80 L159.20 750.30 L160.20 750.30 L160.20 754.40 L161.20 754.40 L161.20 761.00 L161.90 761.00 L161.90 757.00 L162.40 757.00 L162.40 748.70 L163.20 748.70 L163.20 767.40 L164.00 767.40 L164.00 775.00 L165.00 775.00 L165.00 783.5 Z" fill="#2c4a7e"/>
</svg></div></body></html>
